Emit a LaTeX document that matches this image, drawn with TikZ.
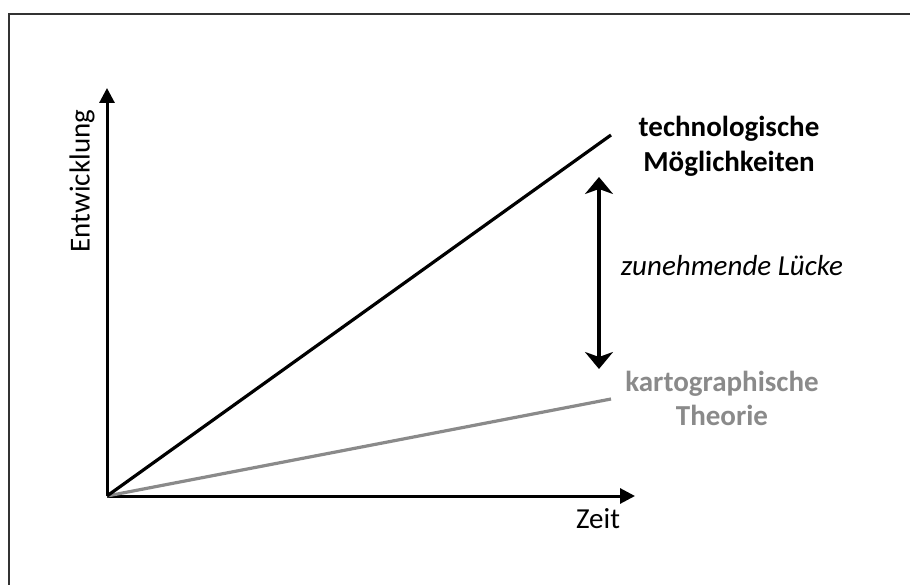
\documentclass[tikz,border=0pt]{standalone}
\usepackage{fontspec}
\setmainfont{Carlito}
\usetikzlibrary{arrows.meta}
\definecolor{theorygray}{HTML}{8A8A8A}
\definecolor{framegray}{HTML}{333333}
\begin{document}
\begin{tikzpicture}[x=1pt,y=-1pt,
  axis/.style={line width=3pt,-{Triangle[length=15pt,width=15pt]}},
  trend/.style={line width=3.2pt},
  gaparrow/.style={line width=4.5pt,{Stealth[length=17pt,width=28pt,inset=5pt]}-{Stealth[length=17pt,width=28pt,inset=5pt]}},
  lbl/.style={inner sep=0pt,align=center},
  labelfont/.style={font=\fontsize{29}{34}\selectfont}
]
\useasboundingbox (0,0) rectangle (910,585);
% open frame: top and left edges only
\coordinate (frameTL) at (9,14);
\coordinate (frameTR) at (912,14);
\coordinate (frameBL) at (9,587);
\draw[framegray,line width=2.2pt] (frameBL) -- (frameTL) -- (frameTR);

% axes
\coordinate (O) at (107,496);
\coordinate (ytip) at (107,88);
\coordinate (xtip) at (635,496);
\draw[axis] (O) -- (ytip);
\draw[axis] (O) -- (xtip);

% trend lines
\coordinate (techEnd) at (611,135);
\coordinate (theoEnd) at (611,399);
\draw[trend,theorygray] (O) -- (theoEnd);
\draw[trend,black] (O) -- (techEnd);

% gap arrow
\coordinate (gapTop) at (599,177);
\coordinate (gapBot) at (599,369);
\draw[gaparrow] (gapTop) -- (gapBot);

% labels
\node[lbl,font=\fontsize{29}{35}\selectfont\bfseries] (tech) at (729,146) {technologische\\Möglichkeiten};
\node[lbl,font=\fontsize{29}{34}\selectfont\bfseries,text=theorygray] (theo) at (722,398) {kartographische\\Theorie};
\node[lbl,font=\fontsize{29}{34}\selectfont\itshape] (gap) at (732,266) {zunehmende Lücke};
\node[lbl,labelfont,anchor=base] (zeit) at (598,528) {Zeit};
\node[lbl,labelfont,rotate=90] (entw) at (82,181) {Entwicklung};
\end{tikzpicture}
\end{document}
